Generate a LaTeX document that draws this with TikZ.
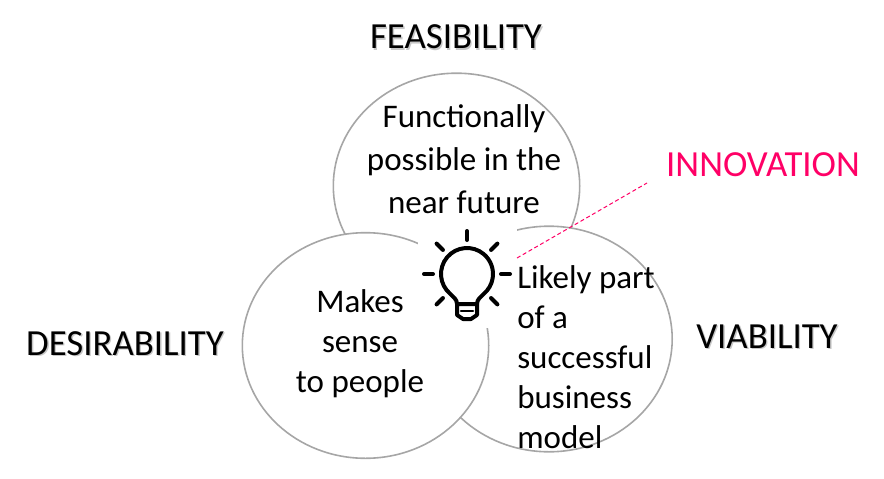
\documentclass[tikz,border=0pt]{standalone}
\usepackage{fontspec}
\setmainfont{Carlito}
\definecolor{ringgray}{HTML}{A6A6A6}
\definecolor{hotpink}{HTML}{FF0066}
\newcommand{\shadowed}[1]{\makebox[0pt][l]{\hspace{1pt}\raisebox{-1pt}{\color{black!22}#1}}#1}

\begin{document}
\begin{tikzpicture}[x=0.75pt, y=-0.75pt,
	ring/.style = {draw=ringgray, line width=1.2pt, fill=white},
	body/.style = {font=\fontsize{24.75}{30}\selectfont, align=center, anchor=base, inner sep=0pt},
	label/.style = {font=\fontsize{27.6}{32}\selectfont, anchor=base, inner sep=0pt},
	bulb/.style = {draw=black, line width=3pt, line cap=round, line join=round}]

		\useasboundingbox (0,0) rectangle (884,478);

		% the three circles
		\draw[ring] (456.5,186) ellipse [x radius=92.4pt, y radius=84.6pt];
		\draw[ring] (549,339) ellipse [x radius=92.4pt, y radius=84.6pt];
		\draw[ring] (365.5,345.5) ellipse [x radius=92.4pt, y radius=84.6pt];

		% light bulb
		\fill[white] (418,224) rectangle (517,328);
		\begin{scope}[shift={(467,274)}, x=0.75pt, y=0.75pt]
			\draw[bulb] (-10,-30) .. controls (-10,-25) and (-14,-23) .. (230:26)
				arc[start angle=230, end angle=-50, radius=19.5pt]
				.. controls (14,-23) and (10,-25) .. (10,-30);
			\draw[bulb] (-10,-30) -- (-10,-41) -- (-4,-45) -- (4,-45) -- (10,-41) -- (10,-30) -- cycle;
			\draw[bulb, line width=2pt] (-6,-37) -- (6,-37);
			\foreach \a in {0,45,90,135,180,225,315}
				\draw[bulb] (\a:34) -- (\a:43);
		\end{scope}

		% labels
		\node[label] (feas) at (456,49) {\shadowed{FEASIBILITY}};
		\node[label] (desir) at (125,355) {\shadowed{DESIRABILITY}};
		\node[label] (viab) at (767,348) {\shadowed{VIABILITY}};
		\node[label, text=hotpink] (innov) at (763,176) {INNOVATION};

		% texts in the circles (base = last line)
		\node[body, font=\fontsize{24.75}{31.9}\selectfont] (feastext) at (464,213) {Functionally\\possible in the\\near future};
		\node[body] (desirtext) at (360,392) {Makes\\sense\\to people};
		\node[body, align=left, anchor=base west] (viabtext) at (517,448) {Likely part\\of a\\successful\\business\\model};

		% pointer
		\coordinate (spark) at (517,258);
		\coordinate (tip) at (647,183);
		\draw[hotpink, line width=0.75pt, dash pattern=on 3pt off 2pt] (spark) -- (tip);
	\end{tikzpicture}
\end{document}
